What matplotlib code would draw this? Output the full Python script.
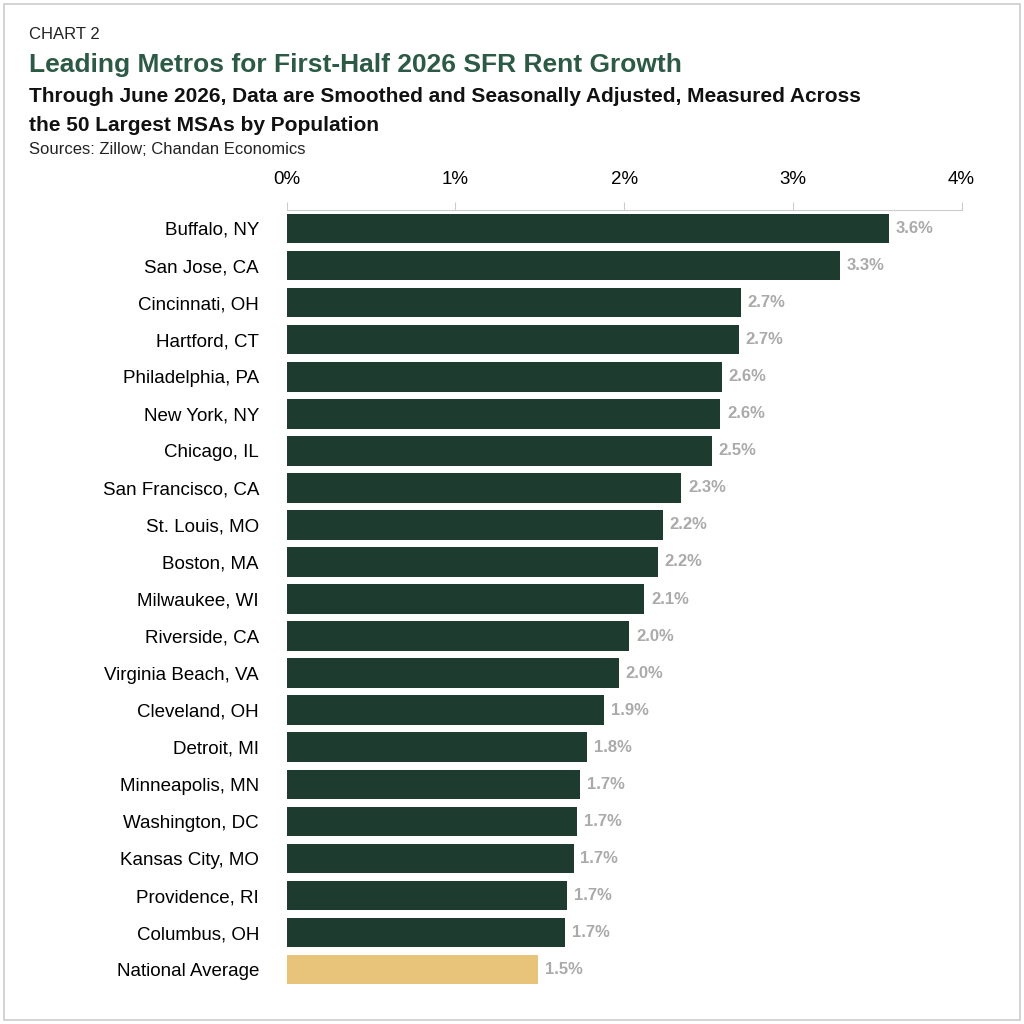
import matplotlib
matplotlib.use("Agg")
import matplotlib.pyplot as plt
from matplotlib.patches import Rectangle

plt.rcParams['font.family'] = ['Liberation Sans', 'DejaVu Sans']

metros = ["Buffalo, NY", "San Jose, CA", "Cincinnati, OH", "Hartford, CT", "Philadelphia, PA",
          "New York, NY", "Chicago, IL", "San Francisco, CA", "St. Louis, MO", "Boston, MA",
          "Milwaukee, WI", "Riverside, CA", "Virginia Beach, VA", "Cleveland, OH", "Detroit, MI",
          "Minneapolis, MN", "Washington, DC", "Kansas City, MO", "Providence, RI", "Columbus, OH",
          "National Average"]
growth = [3.57, 3.28, 2.69, 2.68, 2.58, 2.57, 2.52, 2.34, 2.23, 2.20, 2.12, 2.03, 1.97,
          1.88, 1.78, 1.74, 1.72, 1.70, 1.66, 1.65, 1.49]
labels = ["3.6%", "3.3%", "2.7%", "2.7%", "2.6%", "2.6%", "2.5%", "2.3%", "2.2%", "2.2%",
          "2.1%", "2.0%", "2.0%", "1.9%", "1.8%", "1.7%", "1.7%", "1.7%", "1.7%", "1.7%", "1.5%"]
ticks = [0, 1, 2, 3, 4]
tick_labels = ["0%", "1%", "2%", "3%", "4%"]

fig = plt.figure(figsize=(10.24, 10.24), dpi=100)
fig.patches.append(Rectangle((0.004, 0.004), 0.992, 0.992, transform=fig.transFigure,
                             fill=False, edgecolor='#cccccc', linewidth=1.2))
ax = fig.add_axes([0.280, 0.035, 0.659, 0.760])
colors = ['#1e3b2f'] * (len(metros) - 1) + ['#e8c47a']
y = list(range(len(metros)))
ax.barh(y, growth, height=0.8, color=colors)
for yi, v, l in zip(y, growth, labels):
    ax.text(v + 0.04, yi, l, va='center', ha='left', fontsize=12, fontweight='bold', color='#aaaaaa')
ax.set_yticks(y)
ax.set_yticklabels(metros, fontsize=13.5)
ax.set_ylim(len(metros) - 0.5, -0.5)
ax.set_xlim(0, 4)
ax.set_xticks(ticks)
ax.set_xticklabels(tick_labels, fontsize=13.5)
ax.xaxis.tick_top()
ax.tick_params(axis='y', length=0, pad=20)
ax.tick_params(axis='x', length=6, color='#cccccc', pad=10)
for s in ['right', 'bottom', 'left']:
    ax.spines[s].set_visible(False)
ax.spines['top'].set_color('#cccccc')

fig.text(0.028, 0.962, "CHART 2", fontsize=12, color='#222222')
fig.text(0.028, 0.930, "Leading Metros for First-Half 2026 SFR Rent Growth", fontsize=19,
         fontweight='bold', color='#2d5a45')
fig.text(0.028, 0.900, "Through June 2026, Data are Smoothed and Seasonally Adjusted, Measured Across",
         fontsize=15, fontweight='bold', color='#111111')
fig.text(0.028, 0.872, "the 50 Largest MSAs by Population", fontsize=15, fontweight='bold', color='#111111')
fig.text(0.028, 0.850, "Sources: Zillow; Chandan Economics", fontsize=12, color='#222222')

fig.savefig("out.png", dpi=100)
